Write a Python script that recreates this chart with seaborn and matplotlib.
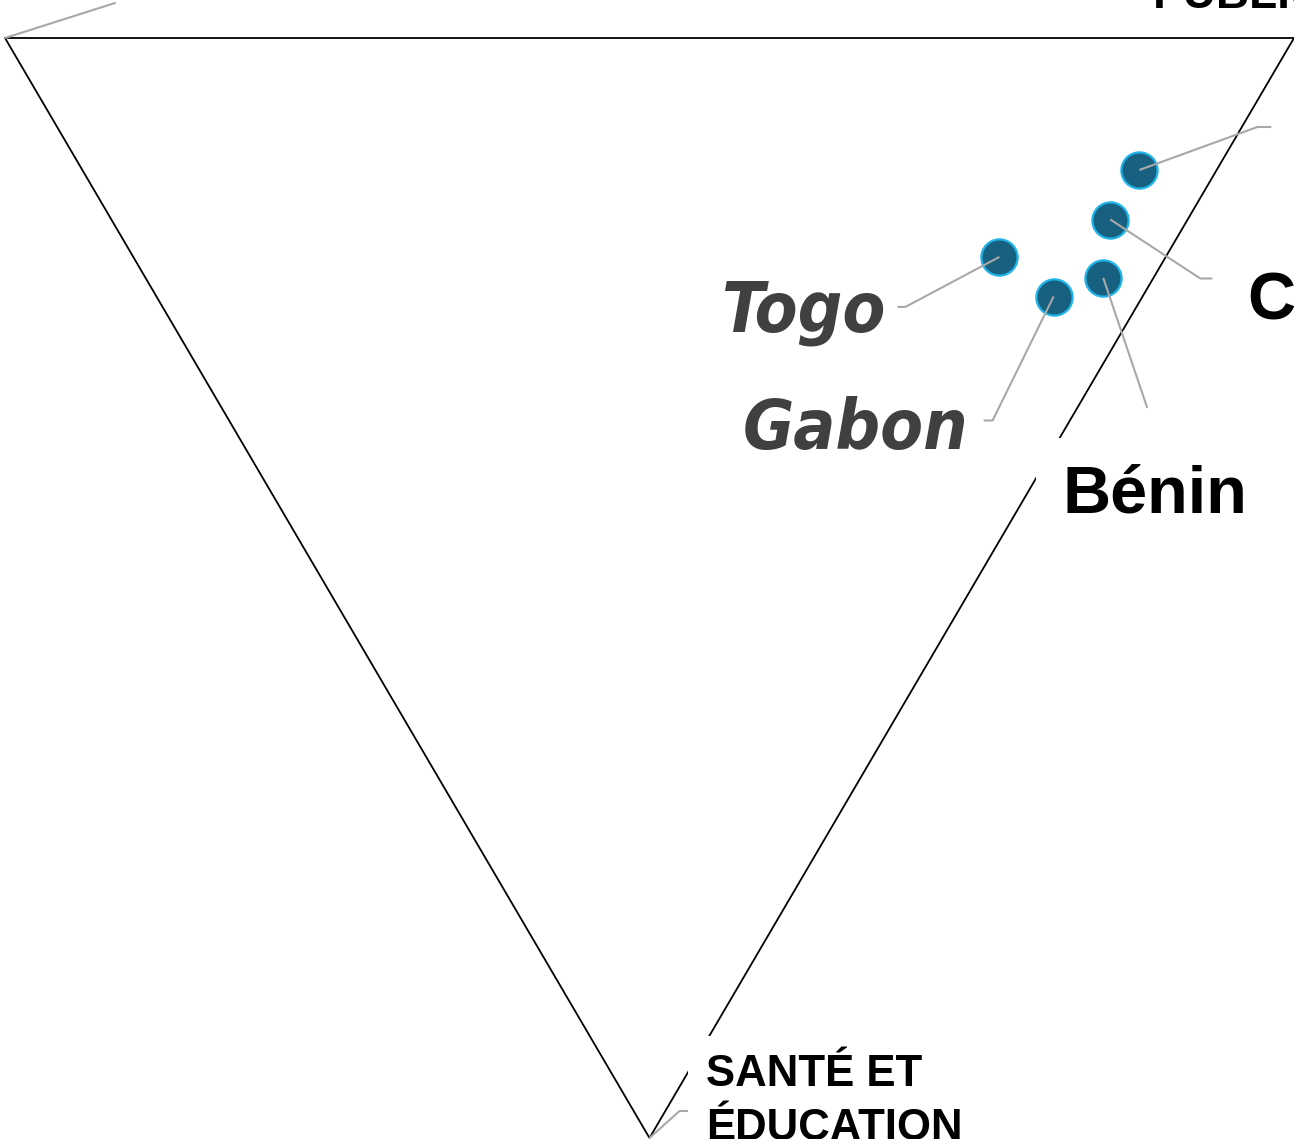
import numpy as np
import pandas as pd
import matplotlib
matplotlib.use("Agg")
import matplotlib.pyplot as plt
from matplotlib import font_manager
import seaborn as sns

# ---------------- data (ternary shares, %) ----------------
countries = ["Cameroun", "Côte d'Ivoire", "Togo", "Gabon", "Bénin"]
public_share = [82.0, 77.5, 67.2, 69.6, 74.3]      # towards top-right vertex
sante_share = [12.0, 16.5, 19.9, 23.5, 21.8]       # towards bottom vertex
autre_share = [6.0, 6.0, 12.9, 6.9, 3.9]           # towards top-left vertex
label_styles = ["hidden", "bold", "italic", "italic", "bold"]
vertex_labels = ["AUTRES", "ADMINISTRATION\nPUBLIQUE", "SANTÉ ET\nÉDUCATION"]

# ---------------- layout ----------------
W, H = 1294, 1139
S = 1289.0                 # pixels per ternary unit (triangle width)
X0, Y0 = 5.0, 38.0         # pixel position of the top-left vertex
TRI_H = 1100.0 / S         # triangle height (data units)

sns.set_theme(style="white")
plt.rcParams["font.family"] = ["Liberation Sans", "DejaVu Sans"]

names = {(f.name, f.stretch) for f in font_manager.fontManager.ttflist}
if any(n == "Liberation Sans Narrow" for n, _ in names):
    NARROW = dict(family=["Liberation Sans Narrow", "DejaVu Sans"], fontsize=55)
elif any(n == "DejaVu Sans" and "condensed" in str(s) for n, s in names):
    NARROW = dict(family=["DejaVu Sans"], fontstretch="condensed", fontsize=50)
else:
    NARROW = dict(family=["Liberation Sans", "DejaVu Sans"], fontsize=51)

df = pd.DataFrame({"pays": countries, "public": public_share,
                   "sante": sante_share, "autre": autre_share})
tot = df["public"] + df["sante"] + df["autre"]
df["b"] = df["public"] / tot
df["c"] = df["sante"] / tot
df["x"] = df["b"] + df["c"] / 2.0
df["y"] = df["c"] * TRI_H

fig = plt.figure(figsize=(W / 100, H / 100), dpi=100)
ax = fig.add_axes([0, 0, 1, 1])
ax.set_xlim(-X0 / S, (W - X0) / S)
ax.set_ylim((H - Y0) / S, -Y0 / S)
ax.set_axis_off()

def px(v):
    return v / S

# triangle
tri_x = [0.0, 1.0, 0.5, 0.0]
tri_y = [0.0, 0.0, TRI_H, 0.0]
ax.plot(tri_x, tri_y, color="black", lw=1.3, zorder=1, solid_joinstyle="miter")

# points
sns.scatterplot(data=df, x="x", y="y", ax=ax, s=680, color="#17607f",
                edgecolor="#1fb4ea", linewidth=1.6, zorder=3, legend=False)

LEAD = "#a8a8a8"
# leader offsets in pixels: (elbow dx, elbow dy, horizontal length)
leaders = {
    "Cameroun": (118, -43, 14),
    "Côte d'Ivoire": (90, 59, 12),
    "Togo": (-94, 50, -8),
    "Gabon": (-61, 124, -9),
    "Bénin": (44, 130, 0),
}
# text anchor offsets from dot (pixels) : (dx, dy baseline)
text_off = {
    "Côte d'Ivoire": (138, 99),
    "Togo": (-114, 75),
    "Gabon": (-85, 152),
    "Bénin": (-41, 235),
}

for _, r in df.iterrows():
    ex, ey, hl = leaders[r["pays"]]
    xs = [r["x"], r["x"] + px(ex), r["x"] + px(ex + hl)]
    ys = [r["y"], r["y"] + px(ey), r["y"] + px(ey)]
    ax.plot(xs, ys, color=LEAD, lw=1.5, zorder=4, solid_capstyle="butt")

for name, style in zip(countries, label_styles):
    if style == "hidden":
        continue
    r = df[df["pays"] == name].iloc[0]
    dx, dy = text_off[name]
    tx, ty = r["x"] + px(dx), r["y"] + px(dy)
    if style == "italic":
        ax.text(tx, ty, name, ha="right", va="baseline",
                fontweight="bold", fontstyle="italic", color="#404040",
                zorder=5, **NARROW)
    else:
        ax.text(tx, ty, name, ha="left", va="baseline", fontsize=48,
                fontweight="bold", color="black", zorder=5,
                bbox=dict(boxstyle="square,pad=0.4", fc="white", ec="none"))

# vertex labels and leaders
# top-left
ax.plot([0.0, px(110)], [0.0, px(-35)], color=LEAD, lw=1.5, zorder=2)
# top-right
ax.text(1.0 + px(-141), px(-30), vertex_labels[1].split("\n")[-1], ha="left",
        va="baseline", fontsize=33, fontweight="bold", color="black", zorder=5)
# bottom
bx, by = 0.5, TRI_H
ax.plot([bx, bx + px(30), bx + px(38)], [by, by - px(27), by - px(27)],
        color=LEAD, lw=1.5, zorder=2)
ax.text(bx + px(57), by - px(84), vertex_labels[2], ha="left", va="top",
        fontsize=31.5, fontweight="bold", color="black", zorder=5, linespacing=1.42,
        bbox=dict(boxstyle="square,pad=0.42", fc="white", ec="none"))

fig.savefig("out.png", dpi=100)
